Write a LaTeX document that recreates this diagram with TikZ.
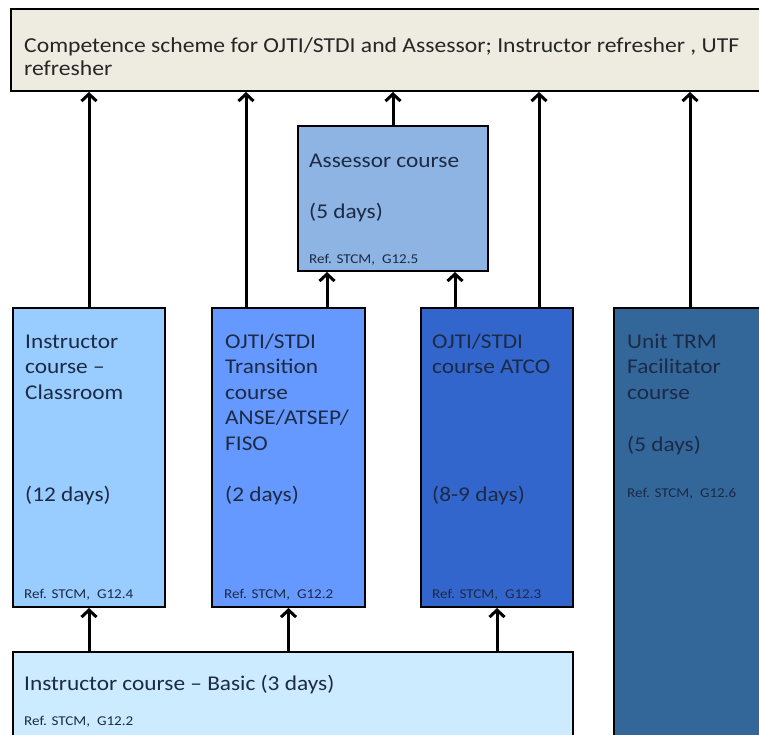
\documentclass[tikz,border=0pt]{standalone}
\usepackage{fontspec}
\setmainfont{Carlito}[FakeStretch=1.11]
\newfontfamily\reffont{Carlito}[FakeStretch=1.12]
\usetikzlibrary{arrows.meta}
\definecolor{topfill}{HTML}{EEECE1}
\definecolor{asfill}{HTML}{8DB4E2}
\definecolor{icfill}{HTML}{99CCFF}
\definecolor{trfill}{HTML}{6699FF}
\definecolor{atfill}{HTML}{3366CC}
\definecolor{tmfill}{HTML}{336699}
\definecolor{bofill}{HTML}{CCEBFF}
\definecolor{txtc}{HTML}{1C2A45}
\definecolor{toptxt}{HTML}{262626}
\newcommand{\mystrut}{\rule{0pt}{17pt}}
\begin{document}
\begin{tikzpicture}[x=1pt,y=-1pt,
  box/.style={draw=black, line width=2pt, rectangle, inner sep=0pt, anchor=north west},
  big/.style={font=\fontsize{21}{25.5}\selectfont, text=txtc, inner sep=0pt, anchor=north west, align=left},
  bigs/.style={font=\fontsize{21}{25.5}\selectfont, text=txtc, inner sep=0pt, anchor=base west},
  reft/.style={font=\reffont\fontsize{13.5}{15}\selectfont, text=txtc, inner sep=0pt, anchor=base west},
  arr/.style={line width=3pt, -{Straight Barb[length=7pt,width=15pt]}}]
\useasboundingbox (0,0) rectangle (759,734);
\clip (0,0) rectangle (759,734);
% boxes
\node[box, fill=topfill, minimum width=760pt, minimum height=82pt] (top) at (10,8) {};
\node[box, fill=asfill, minimum width=190pt, minimum height=145pt] (as) at (297,125) {};
\node[box, fill=icfill, minimum width=152pt, minimum height=299pt] (ic) at (12,307) {};
\node[box, fill=trfill, minimum width=153pt, minimum height=299pt] (tr) at (211,307) {};
\node[box, fill=atfill, minimum width=152pt, minimum height=299pt] (at) at (420,307) {};
\node[box, fill=tmfill, minimum width=152pt, minimum height=433pt] (tm) at (613,307) {};
\node[box, fill=bofill, minimum width=560pt, minimum height=89pt] (bo) at (12,651) {};
% texts
\node[big, text=toptxt, font=\fontsize{21.3}{23.5}\selectfont] (toptext) at (24,35) {\mystrut Competence scheme for OJTI/STDI and Assessor; Instructor refresher , UTF\\refresher};
\node[bigs] (astitle) at (309,167) {Assessor course};
\node[bigs] (asdays) at (309,218) {(5 days)};
\node[reft] (asref) at (309,263) {Ref. STCM,\ \ G12.5};
\node[big] (ictitle) at (25,331) {\mystrut Instructor\\course –\\Classroom};
\node[bigs] (icdays) at (25,501) {(12 days)};
\node[reft] (icref) at (24,598) {Ref. STCM,\ \ G12.4};
\node[big] (trtitle) at (225,331) {\mystrut OJTI/STDI\\Transition\\course\\ANSE/ATSEP/\\FISO};
\node[bigs] (trdays) at (225,501) {(2 days)};
\node[reft] (trref) at (224,598) {Ref. STCM,\ \ G12.2};
\node[big] (attitle) at (432,331) {\mystrut OJTI/STDI\\course ATCO};
\node[bigs] (atdays) at (432,501) {(8-9 days)};
\node[reft] (atref) at (432,598) {Ref. STCM,\ \ G12.3};
\node[big] (tmtitle) at (627,331) {\mystrut Unit TRM\\Facilitator\\course};
\node[bigs] (tmdays) at (627,451) {(5 days)};
\node[reft] (tmref) at (627,497) {Ref. STCM,\ \ G12.6};
\node[bigs] (botitle) at (24,690) {Instructor course – Basic (3 days)};
\node[reft] (boref) at (24,725) {Ref. STCM,\ \ G12.2};
% arrows up to top
\draw[arr] (ic.north) -- (ic.north |- top.south);
\draw[arr] ([xshift=-42.5pt]tr.north) -- ([xshift=-42.5pt]tr.north |- top.south);
\draw[arr] (as.north) -- (as.north |- top.south);
\draw[arr] ([xshift=42pt]at.north) -- ([xshift=42pt]at.north |- top.south);
\draw[arr] (tm.north) -- (tm.north |- top.south);
% arrows to assessor
\draw[arr] ([xshift=38.5pt]tr.north) -- ([xshift=38.5pt]tr.north |- as.south);
\draw[arr] ([xshift=-42pt]at.north) -- ([xshift=-42pt]at.north |- as.south);
% arrows from basic course
\draw[arr] (bo.north -| ic.south) -- (ic.south);
\draw[arr] (bo.north -| tr.south) -- (tr.south);
\draw[arr] (bo.north -| at.south) -- (at.south);
\end{tikzpicture}
\end{document}
